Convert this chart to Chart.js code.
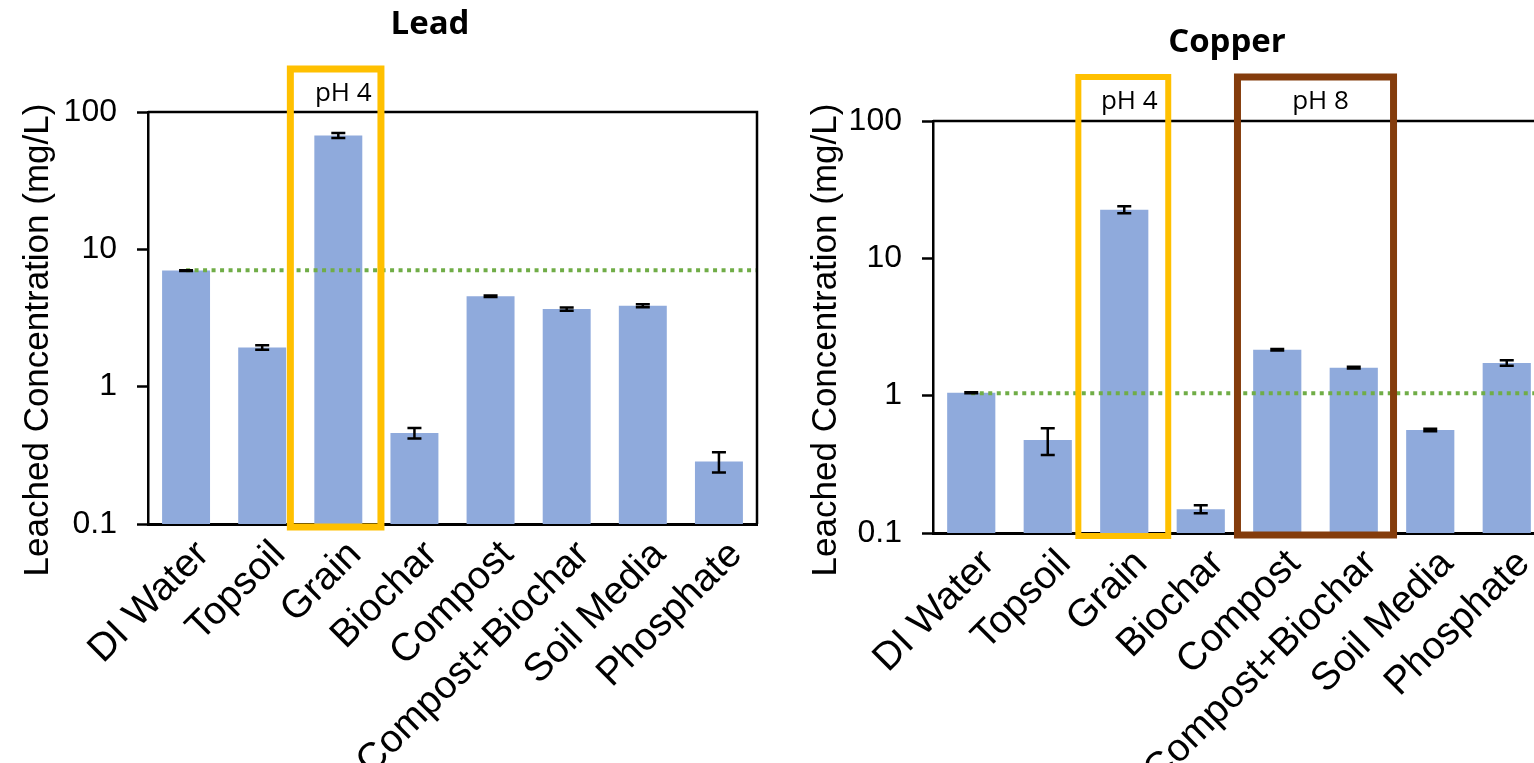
<!DOCTYPE html>
<html>
<head>
<meta charset="utf-8">
<script src="https://cdn.jsdelivr.net/npm/chart.js@4.4.0/dist/chart.umd.min.js"></script>
<style>
  html, body { margin: 0; padding: 0; background: #fff; overflow: hidden; width: 1534px; height: 763px; }
  #leadChart { position: absolute; left: 0; top: 0; }
  #copperChart { position: absolute; left: 780px; top: 0; }
</style>
</head>
<body>
<canvas id="leadChart" width="780" height="763"></canvas>
<canvas id="copperChart" width="780" height="763"></canvas>
<script>
// categories and values (mg/L, log axis)
const categories = ['DI Water', 'Topsoil', 'Grain', 'Biochar', 'Compost', 'Compost+Biochar', 'Soil Media', 'Phosphate'];
const yTicks = [0.1, 1, 10, 100];

const leadValues = [7.0, 1.93, 67.5, 0.46, 4.55, 3.67, 3.88, 0.285];
const leadErrors = [0.05, 0.07, 2.8, 0.04, 0.06, 0.1, 0.1, 0.048];
const leadLimit = 7.05;

const copperValues = [1.05, 0.475, 22.6, 0.149, 2.16, 1.6, 0.562, 1.73];
const copperErrors = [0.01, 0.105, 1.3, 0.01, 0.03, 0.025, 0.012, 0.08];
const copperLimit = 1.04;

const BAR = '#8FAADC';
const AXIS_FONT = 'Liberation Sans';

// error bars, limit line, frame, pH boxes, titles
const extras = {
  id: 'extras',
  afterDatasetsDraw(chart, args, o) {
    const ctx = chart.ctx, a = chart.chartArea, x = chart.scales.x, y = chart.scales.y;
    const meta = chart.getDatasetMeta(0);
    ctx.save();
    // dotted limit line, from the first category to the right edge
    const ly = y.getPixelForValue(o.limit);
    ctx.strokeStyle = '#70AD47';
    ctx.lineWidth = 4;
    ctx.setLineDash([4, 4.5]);
    ctx.beginPath();
    ctx.moveTo(x.getPixelForValue(0), ly);
    ctx.lineTo(a.right, ly);
    ctx.stroke();
    ctx.setLineDash([]);

    ctx.strokeStyle = '#000';
    ctx.lineWidth = 2.5;
    meta.data.forEach((bar, i) => {
      const v = o.values[i], e = o.errors[i];
      const t = y.getPixelForValue(v + e), b = y.getPixelForValue(v - e);
      ctx.beginPath();
      ctx.moveTo(bar.x, t); ctx.lineTo(bar.x, b);
      ctx.moveTo(bar.x - 7, t); ctx.lineTo(bar.x + 7, t);
      ctx.moveTo(bar.x - 7, b); ctx.lineTo(bar.x + 7, b);
      ctx.stroke();
    });
    ctx.restore();
  },
  afterDraw(chart, args, o) {
    const ctx = chart.ctx, a = chart.chartArea, x = chart.scales.x;
    const w = (a.right - a.left) / categories.length;
    ctx.save();
    // top / right frame
    ctx.strokeStyle = '#000';
    ctx.lineWidth = 2.5;
    ctx.beginPath();
    ctx.moveTo(a.left, a.top); ctx.lineTo(a.right, a.top); ctx.lineTo(a.right, a.bottom);
    ctx.stroke();

    // pH boxes
    o.boxes.forEach(bx => {
      const l = x.getPixelForValue(bx.first) - bx.padL * w;
      const r = x.getPixelForValue(bx.last) + bx.padR * w;
      const t = a.top - bx.rise, b = a.bottom + bx.drop;
      ctx.strokeStyle = bx.color;
      ctx.lineWidth = bx.width;
      ctx.strokeRect(l, t, r - l, b - t);
      ctx.fillStyle = '#000';
      ctx.font = '26px "Open Sans"';
      ctx.textAlign = 'center';
      ctx.textBaseline = 'middle';
      const mid = (x.getPixelForValue(bx.first) + x.getPixelForValue(bx.last)) / 2;
      ctx.fillText(bx.label, mid + 5, t + 25);
    });

    // chart title
    ctx.fillStyle = '#000';
    ctx.font = 'bold 33px "Open Sans"';
    ctx.textAlign = 'center';
    ctx.textBaseline = 'middle';
    ctx.fillText(o.title.text, o.title.x, o.title.y);

    // y axis title
    ctx.font = '35px "' + AXIS_FONT + '"';
    ctx.translate(o.yTitle.x, o.yTitle.y);
    ctx.rotate(-Math.PI / 2);
    ctx.fillText('Leached Concentration (mg/L)', 0, 0);
    ctx.restore();
  }
};

function makeChart(id, values, errors, limit, geo) {
  return new Chart(document.getElementById(id), {
    type: 'bar',
    data: {
      labels: categories,
      datasets: [{
        data: values,
        backgroundColor: BAR,
        barPercentage: 0.63,
        categoryPercentage: 1
      }]
    },
    options: {
      responsive: false,
      animation: false,
      devicePixelRatio: 1,
      layout: { padding: { top: geo.top, right: geo.right, left: 0, bottom: 0 } },
      scales: {
        x: {
          afterFit: s => { s.height = geo.xHeight; },
          ticks: {
            minRotation: 45, maxRotation: 45, autoSkip: false, labelOffset: 17,
            font: { family: AXIS_FONT, size: 39 }, color: '#000', padding: 0
          },
          grid: { display: false },
          border: { display: true, color: '#000', width: 3 }
        },
        y: {
          type: 'logarithmic',
          min: 0.1, max: 100,
          afterBuildTicks: s => { s.ticks = yTicks.map(v => ({ value: v })); },
          afterFit: s => { s.width = geo.yWidth; },
          ticks: {
            callback: v => String(v),
            font: { family: AXIS_FONT, size: 32 }, color: '#000', padding: 20
          },
          grid: { drawOnChartArea: false, drawTicks: true, tickLength: 11, tickWidth: 2.5, tickColor: '#000' },
          border: { display: true, color: '#000', width: 2.5 }
        }
      },
      plugins: {
        legend: { display: false },
        tooltip: { enabled: false },
        extras: {
          values: values, errors: errors, limit: limit,
          title: geo.title, yTitle: geo.yTitle, boxes: geo.boxes
        }
      }
    },
    plugins: [extras]
  });
}

makeChart('leadChart', leadValues, leadErrors, leadLimit, {
  top: 112, right: 23, yWidth: 148, xHeight: 239,
  title: { text: 'Lead', x: 430, y: 25 },
  yTitle: { x: 38, y: 340 },
  boxes: [
    { first: 2, last: 2, padL: 0.63, padR: 0.56, rise: 43, drop: 3, color: '#FFC000', width: 7, label: 'pH 4' }
  ]
});

makeChart('copperChart', copperValues, copperErrors, copperLimit, {
  top: 121, right: 15, yWidth: 153, xHeight: 230,
  title: { text: 'Copper', x: 447, y: 43 },
  yTitle: { x: 46, y: 340 },
  boxes: [
    { first: 2, last: 2, padL: 0.6, padR: 0.575, rise: 44, drop: 3, color: '#FFC000', width: 6, label: 'pH 4' },
    { first: 4, last: 5, padL: 0.52, padR: 0.52, rise: 44, drop: 2, color: '#843C0C', width: 7, label: 'pH 8' }
  ]
});
</script>
</body>
</html>
